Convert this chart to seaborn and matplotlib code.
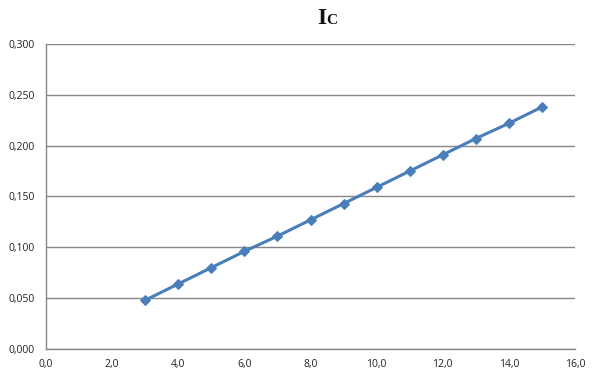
import matplotlib
matplotlib.use("Agg")
import matplotlib.pyplot as plt
import seaborn as sns
import pandas as pd
from matplotlib.ticker import FuncFormatter, MultipleLocator

x_vals = [3, 4, 5, 6, 7, 8, 9, 10, 11, 12, 13, 14, 15]
ic_vals = [0.048, 0.064, 0.080, 0.096, 0.111, 0.127, 0.143, 0.159, 0.175, 0.191, 0.207, 0.222, 0.238]
title_main = "I"
title_sub = "C"

df = pd.DataFrame({"x": x_vals, "ic": ic_vals})

sns.set_theme(style="white")
plt.rcParams['font.family'] = ['Open Sans', 'DejaVu Sans']

W, H = 593, 381
fig = plt.figure(figsize=(W / 100, H / 100), dpi=100)
ax = fig.add_axes([46 / W, 1 - 349 / H, (575 - 46) / W, (349 - 44) / H])

grid_c = "#868686"
sns.lineplot(data=df, x="x", y="ic", ax=ax, color="#4A7EBB", linewidth=2.2,
             marker="D", markersize=5.5, markeredgecolor="#4A7EBB", markerfacecolor="#4A7EBB")

ax.set_xlim(0, 16)
ax.set_ylim(0, 0.3)
ax.xaxis.set_major_locator(MultipleLocator(2))
ax.yaxis.set_major_locator(MultipleLocator(0.05))
ax.xaxis.set_major_formatter(FuncFormatter(lambda v, p: f"{v:.1f}".replace(".", ",")))
ax.yaxis.set_major_formatter(FuncFormatter(lambda v, p: f"{v:.3f}".replace(".", ",")))
ax.yaxis.grid(True, color=grid_c, linewidth=1.0)
ax.xaxis.grid(False)
for s in ["top", "right"]:
    ax.spines[s].set_visible(False)
for s in ["left", "bottom"]:
    ax.spines[s].set_color(grid_c)
    ax.spines[s].set_linewidth(1.0)
ax.tick_params(axis="both", direction="out", length=4, width=1, color=grid_c,
               labelsize=7.5, labelcolor="#222222", pad=3)
ax.tick_params(axis="y", pad=4)
ax.set_xlabel("")
ax.set_ylabel("")

fig.text(317 / W, 1 - 24 / H, title_main, fontsize=17, fontweight="bold",
         family="Liberation Serif", ha="left", va="baseline", color="#111111")
fig.text(326.5 / W, 1 - 24 / H, title_sub, fontsize=11, fontweight="bold",
         family="Liberation Serif", ha="left", va="baseline", color="#111111")

fig.savefig("out.png", dpi=100)
